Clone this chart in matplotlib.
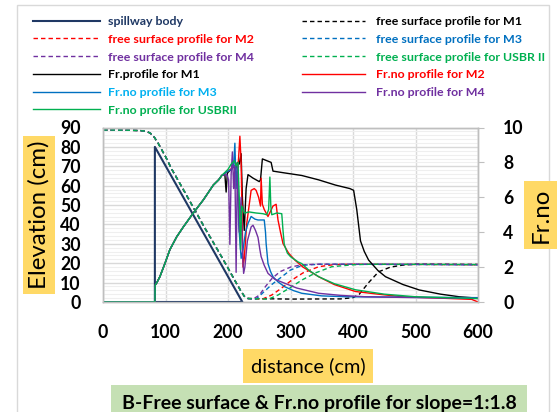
import matplotlib
matplotlib.use("Agg")
import matplotlib.pyplot as plt
from matplotlib.lines import Line2D
from matplotlib.patches import Rectangle
from matplotlib.ticker import MultipleLocator

plt.rcParams['font.family'] = ['Lato', 'DejaVu Sans']

# ---------------- data ----------------
spill_x = [83, 83, 223, 83]
spill_y = [0, 80, 0, 0]

# upstream free surface (common to all runs)
fs_up_x = [0, 20, 40, 60, 70, 76, 82, 88, 94, 100, 110, 125, 145, 165, 185, 200, 212, 220, 226, 232]
fs_up_y = [88.7, 88.7, 88.6, 88.4, 88, 87, 85, 82, 78.5, 75, 68.5, 60, 48.5, 37, 26, 17.5, 10.5, 6, 3, 1.8]

fs_m1_x = [300, 380, 400, 410, 425, 441, 460, 479, 500, 600]
fs_m1_y = [1.5, 1.6, 2.2, 4, 10, 15.6, 18, 19, 19.5, 19.4]
fs_m2_x = [255, 270, 285, 302, 320, 345, 370, 400, 600]
fs_m2_y = [1.5, 3.6, 7, 11.3, 15, 18.2, 19.3, 19.5, 19.2]
fs_m3_x = [245, 255, 270, 286, 300, 320, 350, 600]
fs_m3_y = [1.5, 4.5, 9, 13, 16.5, 19, 19.5, 19.2]
fs_m4_x = [240, 250, 260, 270, 283, 300, 315, 340, 400, 500, 600]
fs_m4_y = [1.5, 3.5, 8, 12, 15.6, 18, 19, 19.5, 19.5, 19.5, 19.2]
fs_us_x = [265, 280, 300, 318, 340, 366, 400, 430, 600]
fs_us_y = [1.5, 3.6, 7.5, 11.3, 15, 18.2, 19.2, 19.5, 19.3]

# Froude number: common accelerating part on the spillway
fr_up_x = [0, 83, 83.5, 86, 91, 99, 107, 118, 128.5, 144.5, 160.5, 176.5, 185, 190]
fr_up_y = [0, 0, 0.97, 1.1, 1.45, 2.2, 3.0, 3.74, 4.3, 5.1, 5.85, 6.7, 7.0, 7.25]

fr_m1_x = [195, 197, 199, 205, 208, 212, 215, 218, 221, 223, 226, 229, 232, 240, 250, 252, 255, 262,
           269, 272, 290, 318, 345, 372, 395, 401, 406, 412, 418, 425, 440, 452, 480, 506, 540, 570, 600]
fr_m1_y = [7.3, 6.3, 7.4, 7.6, 7.8, 7.6, 8.0, 7.9, 8.5, 6.0, 4.1, 6.5, 7.3, 7.1, 6.9, 7.0, 8.2, 8.1,
           8.0, 7.5, 7.4, 7.25, 7.0, 6.7, 6.5, 6.4, 5.3, 3.5, 2.9, 2.4, 1.8, 1.45, 1.0, 0.69, 0.45, 0.3, 0.22]
fr_m2_x = [200, 208, 213, 216, 219, 221, 222.5, 224, 226, 230, 237, 242, 245, 249, 252, 253, 255, 258,
           264, 268, 272, 277, 280, 284, 288, 297, 307, 320, 345, 370, 404, 440, 479, 540, 590, 600]
fr_m2_y = [7.5, 7.7, 7.9, 7.7, 9.5, 8.0, 5.0, 2.0, 2.5, 4.5, 6.4, 6.5, 6.4, 6.0, 5.5, 7.1, 5.6, 5.3,
           4.9, 5.2, 5.5, 5.6, 4.7, 4.0, 3.35, 2.8, 2.4, 2.0, 1.45, 1.0, 0.6, 0.45, 0.3, 0.22, 0.15, 0.0]
fr_m3_x = [200, 206, 209, 211, 213, 215, 217, 219, 221, 224, 228, 232, 237, 243, 248, 254, 258, 260, 261,
           264, 268, 272, 280, 291, 305, 318, 350, 390, 600]
fr_m3_y = [7.5, 7.6, 7.8, 9.1, 6.5, 7.8, 4.5, 3.5, 2.5, 3.0, 4.0, 4.5, 4.9, 4.75, 4.7, 4.7, 4.7, 4.0, 3.35,
           2.2, 1.75, 1.45, 1.15, 0.87, 0.65, 0.5, 0.35, 0.3, 0.25]
fr_m4_x = [198, 201, 203, 205, 207, 209, 211, 213, 215, 218, 221, 223, 225, 227, 231, 237, 240, 244,
           248, 251, 253, 258, 264, 275, 291, 310, 345, 380, 420, 500, 600]
fr_m4_y = [7.3, 7.0, 3.3, 7.3, 8.6, 6.5, 7.8, 1.7, 7.9, 4.0, 6.0, 3.0, 1.64, 2.0, 3.5, 4.3, 4.4, 4.1,
           3.7, 3.0, 2.6, 2.1, 1.64, 1.3, 1.07, 0.8, 0.5, 0.38, 0.3, 0.25, 0.2]
fr_us_x = [200, 205, 210, 213, 216, 218, 220, 222, 226, 234, 245, 256, 262, 265, 267, 268.5, 270, 278,
           286, 287, 288, 290, 295, 300, 306, 312, 318, 330, 345, 370, 404, 450, 500, 600]
fr_us_y = [7.6, 7.9, 8.1, 7.8, 8.0, 6.0, 3.0, 5.5, 5.1, 5.16, 5.1, 5.06, 5.0, 5.3, 7.16, 5.5, 5.0, 5.1,
           5.06, 4.6, 4.1, 3.3, 2.8, 2.6, 2.45, 2.3, 2.2, 1.8, 1.45, 1.05, 0.7, 0.45, 0.3, 0.2]

x_ticks = [0, 100, 200, 300, 400, 500, 600]
elev_ticks = [0, 10, 20, 30, 40, 50, 60, 70, 80, 90]
fr_ticks = [0, 2, 4, 6, 8, 10]

# ---------------- colours ----------------
NAVY = '#1F3864'
BLACK = '#000000'
RED = '#FF0000'
BLUE = '#0070C0'
PURPLE = '#7030A0'
GREEN = '#00B050'
CYAN = '#00B0F0'

W, H = 557, 412
fig = plt.figure(figsize=(W / 100, H / 100), dpi=100)
renderer = fig.canvas.get_renderer()


def fit_size(text, target_px, **kw):
    t = fig.text(0, 0, text, fontsize=10, **kw)
    w = t.get_window_extent(renderer=renderer).width
    t.remove()
    return 10.0 * target_px / w


ax = fig.add_axes([103 / W, 1 - 302 / H, 375 / W, 174.5 / H])
ax2 = ax.twinx()

dash = (0, (3.2, 2.2))
lw = 1.0
ax.plot(spill_x, spill_y, color=NAVY, lw=1.5, zorder=3)
ax.plot(fs_up_x + fs_m1_x, fs_up_y + fs_m1_y, color=BLACK, ls=dash, lw=lw)
ax.plot(fs_up_x + fs_m2_x, fs_up_y + fs_m2_y, color=RED, ls=dash, lw=lw)
ax.plot(fs_up_x + fs_m3_x, fs_up_y + fs_m3_y, color=BLUE, ls=dash, lw=lw)
ax.plot(fs_up_x + fs_m4_x, fs_up_y + fs_m4_y, color=PURPLE, ls=dash, lw=lw)
ax.plot(fs_up_x + fs_us_x, fs_up_y + fs_us_y, color=GREEN, ls=dash, lw=lw)

ax2.plot(fr_up_x + fr_m1_x, fr_up_y + fr_m1_y, color=BLACK, lw=lw)
ax2.plot(fr_up_x + fr_m2_x, fr_up_y + fr_m2_y, color=RED, lw=lw)
ax2.plot(fr_up_x + fr_m3_x, fr_up_y + fr_m3_y, color=BLUE, lw=lw)
ax2.plot(fr_up_x + fr_m4_x, fr_up_y + fr_m4_y, color=PURPLE, lw=lw)
ax2.plot(fr_up_x + fr_us_x, fr_up_y + fr_us_y, color=GREEN, lw=lw)

ax.set_xlim(0, 600)
ax.set_ylim(0, 90)
ax2.set_ylim(0, 10)
ax.set_xticks(x_ticks)
ax.set_yticks(elev_ticks)
ax2.set_yticks(fr_ticks)
ax.yaxis.set_minor_locator(MultipleLocator(2))

ax.grid(True, which='major', color='#D9D9D9', lw=1.0)
ax.grid(True, which='minor', axis='y', color='#EFEFEF', lw=0.8)
ax.set_axisbelow(True)

tick_size = fit_size('600', 31, fontweight='bold')
ax.tick_params(axis='both', which='both', length=0)
ax.tick_params(axis='y', pad=16)
ax.tick_params(axis='x', pad=16)
ax2.tick_params(axis='y', length=4, color='#BFBFBF', pad=14)
for lab in ax.get_xticklabels() + ax.get_yticklabels() + ax2.get_yticklabels():
    lab.set_fontsize(tick_size)
    lab.set_fontweight('bold')

for a in (ax, ax2):
    for s in a.spines.values():
        s.set_color('#BFBFBF')
        s.set_linewidth(1.0)

# legend (two columns, drawn at their reference positions)
leg_size = fit_size('free surface profile for USBR II', 171, fontweight='bold')
col1_lab = ['spillway body', 'free surface profile for M2', 'free surface profile for M4',
            'Fr.profile for M1', 'Fr.no profile for M3', 'Fr.no profile for USBRII']
col1_line = [NAVY, RED, PURPLE, BLACK, BLUE, GREEN]
col1_ls = ['-', dash, dash, '-', '-', '-']
col1_txt = [NAVY, RED, PURPLE, BLACK, CYAN, GREEN]
col2_lab = ['free surface profile for M1', 'free surface profile for M3',
            'free surface profile for USBR II', 'Fr.no profile for M2', 'Fr.no profile for M4']
col2_line = [BLACK, BLUE, GREEN, RED, PURPLE]
col2_ls = [dash, dash, dash, '-', '-']
col2_txt = [BLACK, BLUE, GREEN, RED, PURPLE]

row0, pitch = 20.7, 17.7
for (x0, x1, xt, labs, lcs, lss, tcs) in [
        (33, 100, 108, col1_lab, col1_line, col1_ls, col1_txt),
        (302, 365, 376, col2_lab, col2_line, col2_ls, col2_txt)]:
    for i, (lab, lc, ls, tc) in enumerate(zip(labs, lcs, lss, tcs)):
        yy = 1 - (row0 + pitch * i) / H
        fig.add_artist(Line2D([x0 / W, x1 / W], [yy, yy], transform=fig.transFigure,
                              color=lc, ls=ls, lw=1.5 if i == 0 and x0 == 33 else 1.0))
        fig.text(xt / W, yy, lab, color=tc, fontsize=leg_size, fontweight='bold',
                 ha='left', va='center_baseline')

# axis titles in coloured boxes
lab_size = fit_size('Elevation (cm)', 148)
dist_size = fit_size('distance (cm)', 115)
title_size = fit_size('B-Free surface & Fr.no profile for slope=1:1.8', 395, fontweight='bold')


def pad_for(px, size):
    return px / (size * 100 / 72)


fig.text(39 / W, 1 - 215 / H, 'Elevation (cm)', rotation=90, ha='center', va='center',
         fontsize=lab_size,
         bbox=dict(boxstyle='square,pad=%.3f' % pad_for(5, lab_size), fc='#FFD966', ec='none'))
fig.text(541 / W, 1 - 215 / H, 'Fr.no', rotation=90, ha='center', va='center',
         fontsize=lab_size,
         bbox=dict(boxstyle='square,pad=%.3f' % pad_for(6, lab_size), fc='#FFD966', ec='none'))
fig.text(308 / W, 1 - 366 / H, 'distance (cm)', ha='center', va='center',
         fontsize=dist_size,
         bbox=dict(boxstyle='square,pad=%.3f' % pad_for(8, dist_size), fc='#FFD966', ec='none'))
fig.text(319 / W, 1 - 404 / H, 'B-Free surface & Fr.no profile for slope=1:1.8', ha='center',
         va='center', fontsize=title_size, fontweight='bold',
         bbox=dict(boxstyle='square,pad=%.3f' % pad_for(10.5, title_size), fc='#C5E0B4', ec='none'))

fig.patches.append(Rectangle((17 / W, -0.01), 532 / W, 1 - 5 / H + 0.01, transform=fig.transFigure,
                             fill=False, ec='#D9D9D9', lw=1.0))

fig.savefig('out.png', dpi=100)
